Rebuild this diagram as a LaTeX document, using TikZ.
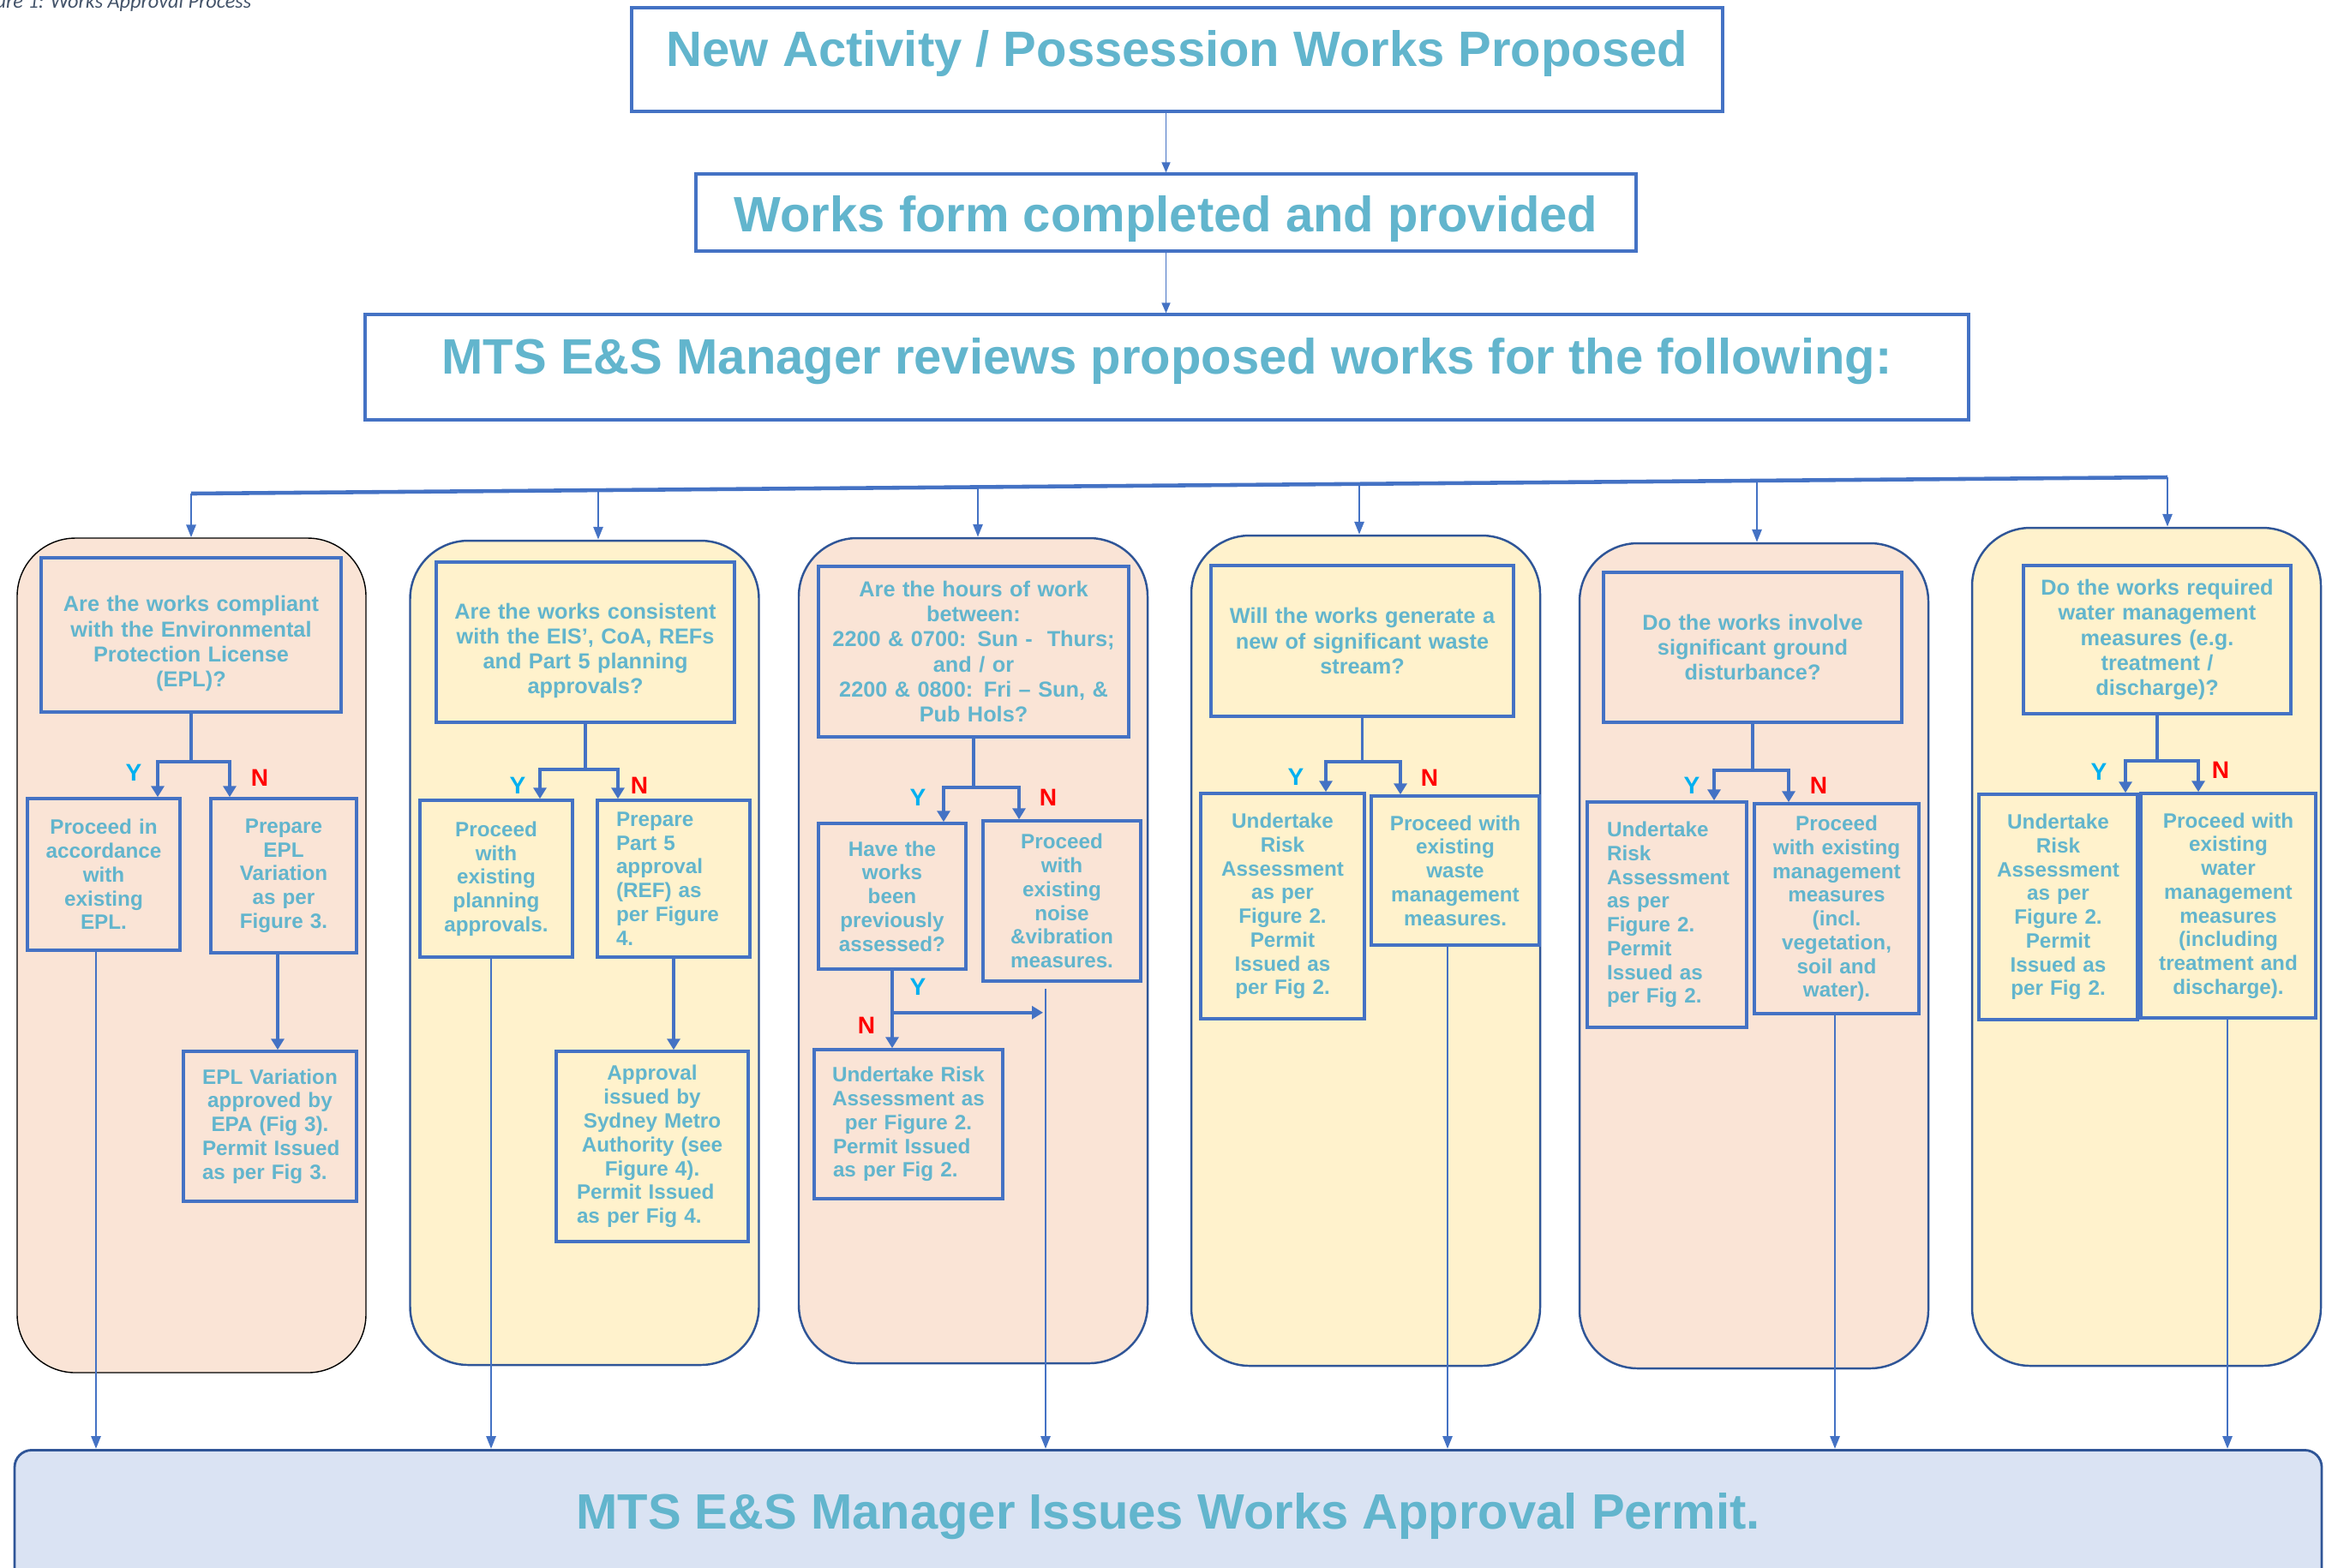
\documentclass[tikz,border=0pt]{standalone}
\usepackage{fontspec}
\setmainfont{Liberation Sans}
\newfontfamily\capfont{Carlito}
\usetikzlibrary{arrows.meta}

\definecolor{txtblue}{RGB}{98,181,205}
\definecolor{boxblue}{RGB}{68,114,196}
\definecolor{panelblue}{RGB}{47,85,151}
\definecolor{peach}{RGB}{250,228,214}
\definecolor{cream}{RGB}{255,242,204}
\definecolor{permitfill}{RGB}{218,227,243}
\definecolor{yesblue}{RGB}{0,176,240}
\definecolor{capgrey}{RGB}{68,84,106}

\tikzset{
	figcap/.style={font=\capfont\itshape\fontsize{6.9}{8}\selectfont, text=capgrey, inner sep=0pt},
	topbox/.style={draw=boxblue, line width=0.9pt, fill=white, inner sep=0pt},
	bigtext/.style={font=\fontsize{16.5}{19}\selectfont\bfseries, text=txtblue, inner sep=0pt},
	panel/.style={line width=0.7pt, rounded corners=0.68cm, inner sep=0pt},
	permitbox/.style={draw=panelblue, line width=0.8pt, fill=permitfill, rounded corners=0.2cm, inner sep=0pt},
	qbox/.style={draw=boxblue, line width=1pt, align=center, inner sep=0pt, text=txtblue, font=\fontsize{7.2}{8.3}\selectfont\bfseries},
	abox/.style={qbox, font=\fontsize{6.9}{7.9}\selectfont\bfseries},
	yeslab/.style={font=\fontsize{8}{9}\selectfont\bfseries, text=yesblue, inner sep=0pt},
	nolab/.style={yeslab, text=red},
	branch/.style={draw=boxblue, line width=1.1pt},
	brancharrow/.style={branch, -{Triangle[length=0.13cm, width=0.15cm]}},
	exitline/.style={draw=boxblue, line width=0.8pt, -{Triangle[length=0.15cm, width=0.11cm]}},
	busline/.style={draw=boxblue, line width=1.3pt},
	busdrop/.style={draw=boxblue, line width=0.8pt, -{Triangle[length=0.15cm, width=0.11cm]}},
	toparrow/.style={draw=boxblue, line width=0.45pt, -{Triangle[length=0.12cm, width=0.1cm]}}
}

\begin{document}
\begin{tikzpicture}[x=1cm, y=-1cm]
	\useasboundingbox (0,0) rectangle (27.14,18.29);

	\node[figcap, anchor=base east] (cap) at (2.94,0.09) {Figure 1: Works Approval Process};

	\node[topbox, minimum width=12.73cm, minimum height=1.21cm] (propose) at (13.735,0.695) {};
	\node[bigtext] (proposetxt) at (13.735,0.62) {New Activity / Possession Works Proposed};
	\node[topbox, minimum width=10.97cm, minimum height=0.90cm] (form) at (13.605,2.48) {};
	\node[bigtext] (formtxt) at (13.605,2.55) {Works form completed and provided};
	\node[topbox, minimum width=18.71cm, minimum height=1.23cm] (review) at (13.615,4.285) {};
	\node[bigtext] (reviewtxt) at (13.615,4.22) {MTS E\&S Manager reviews proposed works for the following:};
	\draw[toparrow] (form.north |- propose.south) -- (form.north)
	;
	\draw[toparrow] (form.south) -- (form.south |- review.north)
	;

	\foreach \i/\x/\y/\h/\c/\d/\w in {1/2.235/11.15/9.74/peach/black/0.4pt, 2/6.82/11.12/9.62/cream/panelblue/0.7pt, 3/11.355/11.095/9.63/peach/panelblue/0.7pt, 4/15.935/11.095/9.69/cream/panelblue/0.7pt, 5/20.465/11.155/9.63/peach/panelblue/0.7pt, 6/25.045/11.05/9.78/cream/panelblue/0.7pt}
		\node[panel, draw=\d, line width=\w, fill=\c, minimum width=4.07cm, minimum height=\h cm] (p\i) at (\x,\y) {};

	\coordinate (busw) at (2.23,5.76);
	\coordinate (buse) at (25.29,5.57);
	\draw[busline] (busw) -- (buse);
	\foreach \x/\y/\p in {2.23/5.76/p1, 6.98/5.72/p2, 11.41/5.68/p3, 15.86/5.65/p4, 20.50/5.61/p5, 25.29/5.57/p6}{
		\coordinate (top\p) at (\x,\y);
		\draw[busdrop] (top\p) -- (top\p |- \p.north);
	}

	\node[qbox, minimum width=3.50cm, minimum height=1.80cm, text width=3.40cm] (q1) at (2.23,7.41) {\rule{0pt}{11pt}Are the works compliant\\with the Environmental\\Protection License\\(EPL)?};
	\node[qbox, minimum width=3.48cm, minimum height=1.87cm, text width=3.40cm] (q2) at (6.83,7.495) {\rule{0pt}{11pt}Are the works consistent\\with the EIS', CoA, REFs\\and Part 5 planning\\approvals?};
	\node[qbox, minimum width=3.62cm, minimum height=1.99cm, text width=3.54cm] (q3) at (11.36,7.605) {Are the hours of work\\between:\\2200 \& 0700: Sun -~~Thurs;\\and / or\\2200 \& 0800: Fri -- Sun, \&\\Pub Hols?};
	\node[qbox, minimum width=3.53cm, minimum height=1.76cm, text width=3.45cm] (q4) at (15.895,7.48) {Will the works generate a\\new of significant waste\\stream?};
	\node[qbox, minimum width=3.48cm, minimum height=1.75cm, text width=3.40cm] (q5) at (20.45,7.555) {Do the works involve\\significant ground\\disturbance?};
	\node[qbox, minimum width=3.12cm, minimum height=1.73cm, text width=3.04cm] (q6) at (25.17,7.465) {Do the works required\\water management\\measures (e.g.\\treatment /\\discharge)?};

	\node[abox, minimum width=1.78cm, minimum height=1.77cm, text width=1.72cm] (y1) at (1.21,10.205) {Proceed in\\accordance\\with\\existing\\EPL.};
	\node[abox, minimum width=1.70cm, minimum height=1.80cm, text width=1.64cm] (n1) at (3.31,10.22) {Prepare\\EPL\\Variation\\as per\\Figure 3.};
	\node[abox, align=left, minimum width=2.02cm, minimum height=1.75cm, text width=1.92cm] (epa) at (3.15,13.145) {{\centering EPL Variation\\approved by\\EPA (Fig 3).\par}{\leftskip=0.17cm Permit Issued\\as per Fig 3.\par}};

	\node[abox, minimum width=1.78cm, minimum height=1.83cm, text width=1.72cm] (y2) at (5.79,10.255) {Proceed\\with\\existing\\planning\\approvals.};
	\node[abox, align=left, minimum width=1.78cm, minimum height=1.83cm, text width=1.68cm] (n2) at (7.86,10.255) {{\leftskip=0.17cm Prepare\\Part 5\\approval\\(REF) as\\per Figure\\4.\par}};
	\node[abox, align=left, minimum width=2.24cm, minimum height=2.22cm, text width=2.14cm] (metro) at (7.61,13.38) {{\centering Approval\\issued by\\Sydney Metro\\Authority (see\\Figure 4).\par}{\leftskip=0.19cm Permit Issued\\as per Fig 4.\par}};

	\node[abox, minimum width=1.72cm, minimum height=1.70cm, text width=1.66cm] (y3) at (10.41,10.46) {Have the\\works\\been\\previously\\assessed?};
	\node[abox, minimum width=1.84cm, minimum height=1.87cm, text width=1.78cm] (n3) at (12.39,10.515) {Proceed\\with\\existing\\noise\\\&vibration\\measures.};
	\node[abox, align=left, minimum width=2.20cm, minimum height=1.74cm, text width=2.10cm] (risk3) at (10.60,13.12) {{\centering Undertake Risk\\Assessment as\\per Figure 2.\par}{\leftskip=0.17cm Permit Issued\\as per Fig 2.\par}};

	\node[abox, minimum width=1.91cm, minimum height=2.63cm, text width=1.85cm] (y4) at (14.965,10.575) {Undertake\\Risk\\Assessment\\as per\\Figure 2.\\Permit\\Issued as\\per Fig 2.};
	\node[abox, minimum width=1.96cm, minimum height=1.74cm, text width=1.90cm] (n4) at (16.98,10.16) {Proceed with\\existing\\waste\\management\\measures.};

	\node[abox, align=left, minimum width=1.86cm, minimum height=2.63cm, text width=1.76cm] (y5) at (19.45,10.675) {{\leftskip=0.18cm Undertake\\Risk\\Assessment\\as per\\Figure 2.\\Permit\\Issued as\\per Fig 2.\par}};
	\node[abox, minimum width=1.92cm, minimum height=2.45cm, text width=1.86cm] (n5) at (21.43,10.605) {Proceed\\with existing\\management\\measures\\(incl.\\vegetation,\\soil and\\water).};

	\node[abox, minimum width=1.85cm, minimum height=2.63cm, text width=1.79cm] (y6) at (24.015,10.585) {Undertake\\Risk\\Assessment\\as per\\Figure 2.\\Permit\\Issued as\\per Fig 2.};
	\node[abox, minimum width=2.04cm, minimum height=2.62cm, text width=1.98cm] (n6) at (26.00,10.57) {Proceed with\\existing\\water\\management\\measures\\(including\\treatment and\\discharge).};

	\foreach \i/\dy/\ys/\ns in {1/0.56/0.63/-0.63, 2/0.53/0.51/-0.65, 3/0.57/0.60/-0.50, 4/0.51/0.505/-0.64, 5/0.54/0.55/-0.56, 6/0.53/0.785/-0.35}{
		\draw[branch] (q\i.south) -- ++(0,\dy) coordinate (j\i);
		\draw[brancharrow] (j\i) -| ([xshift=\ys cm]y\i.north);
		\draw[brancharrow] (j\i) -| ([xshift=\ns cm]n\i.north);
	}
	\foreach \i/\yx/\yy/\nx/\ny in {1/1.56/9.02/3.03/9.08, 2/6.04/9.17/7.46/9.17, 3/10.71/9.31/12.23/9.31, 4/15.12/9.07/16.68/9.08, 5/19.74/9.17/21.22/9.17, 6/24.49/9.01/25.91/8.99}{
		\node[yeslab] (ly\i) at (\yx,\yy) {Y};
		\node[nolab] (ln\i) at (\nx,\ny) {N};
	}

	\coordinate (a1) at ([xshift=-0.07cm]n1.south);
	\draw[brancharrow] (a1) -- (a1 |- epa.north);
	\draw[brancharrow] (n2.south) -- (n2.south |- metro.north);
	\draw[brancharrow] (y3.south) -- (y3.south |- risk3.north);
	\node[yeslab] (ly3b) at (10.71,11.52) {Y};
	\node[nolab] (ln3b) at (10.11,11.97) {N};

	\node[permitbox, minimum width=26.92cm, minimum height=2.2cm, anchor=north] (permit) at (13.63,16.91) {};
	\node[bigtext] (permittxt) at (13.63,17.70) {MTS E\&S Manager Issues Works Approval Permit.};

	\foreach \b/\s/\g in {y1/-0.09/0, y2/-0.06/0, n3/-0.19/0.07, n4/-0.09/0, n5/-0.02/0, n6/-0.01/0}{
		\coordinate (e\b) at ([xshift=\s cm, yshift=-\g cm]\b.south);
		\draw[exitline] (e\b) -- (e\b |- permit.north);
	}
	\coordinate (fork3) at ([yshift=-0.49cm]y3.south);
	\draw[brancharrow, shorten >=0.03cm] (fork3) -- (fork3 -| en3)
	;
\end{tikzpicture}
\end{document}
